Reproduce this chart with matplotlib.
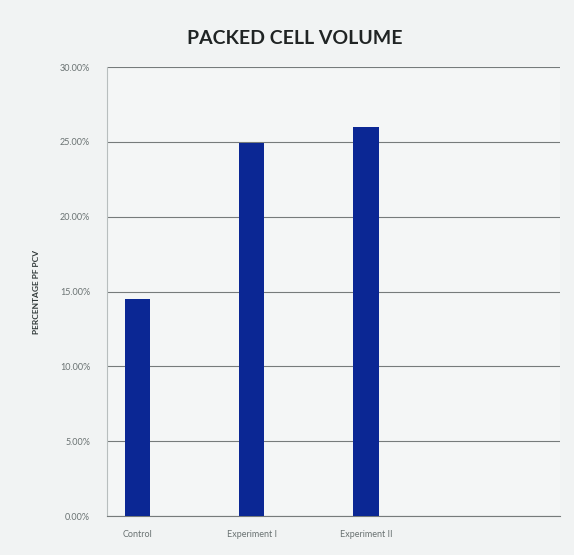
import matplotlib.pyplot as plt
from matplotlib.ticker import FuncFormatter

# packed cell volume per group (%)
groups = ['Control', 'Experiment I', 'Experiment II']
pcv = [14.5, 24.9, 26.0]
yticks = [0, 5, 10, 15, 20, 25, 30]

plt.rcParams['font.family'] = ['Lato', 'DejaVu Sans']


def main():
    fig = plt.figure(figsize=(5.74, 5.55), dpi=100)
    fig.patch.set_facecolor('#f1f3f3')
    ax = fig.add_axes([0.186, 0.070, 0.790, 0.809])
    ax.set_facecolor('#f4f6f6')

    x = range(len(groups))
    ax.bar(x, pcv, width=0.22, color='#0b2794', zorder=3)

    ax.set_ylim(0, 30)
    ax.set_xlim(-0.27, 3.7)
    ax.set_yticks(yticks)
    ax.yaxis.set_major_formatter(FuncFormatter(lambda v, p: '%.2f%%' % v))
    ax.set_xticks(list(x))
    ax.set_xticklabels(groups)
    ax.tick_params(axis='both', length=0, labelsize=6.5, colors='#6a7272')
    ax.tick_params(axis='x', pad=10)
    ax.tick_params(axis='y', pad=12)

    ax.grid(axis='y', color='#767b7b', linewidth=0.8, zorder=0)
    for side in ['top', 'right']:
        ax.spines[side].set_visible(False)
    ax.spines['bottom'].set_color('#767b7b')
    ax.spines['left'].set_color('#b8bebe')

    ax.set_ylabel('PERCENTAGE PF PCV', fontsize=6, fontweight='bold',
                  color='#303838', labelpad=14)
    fig.text(0.514, 0.93, 'PACKED CELL VOLUME', ha='center', va='center',
             fontsize=14, fontweight='bold', color='#202424')

    fig.savefig('out.png', dpi=100, facecolor=fig.get_facecolor())


if __name__ == '__main__':
    main()
